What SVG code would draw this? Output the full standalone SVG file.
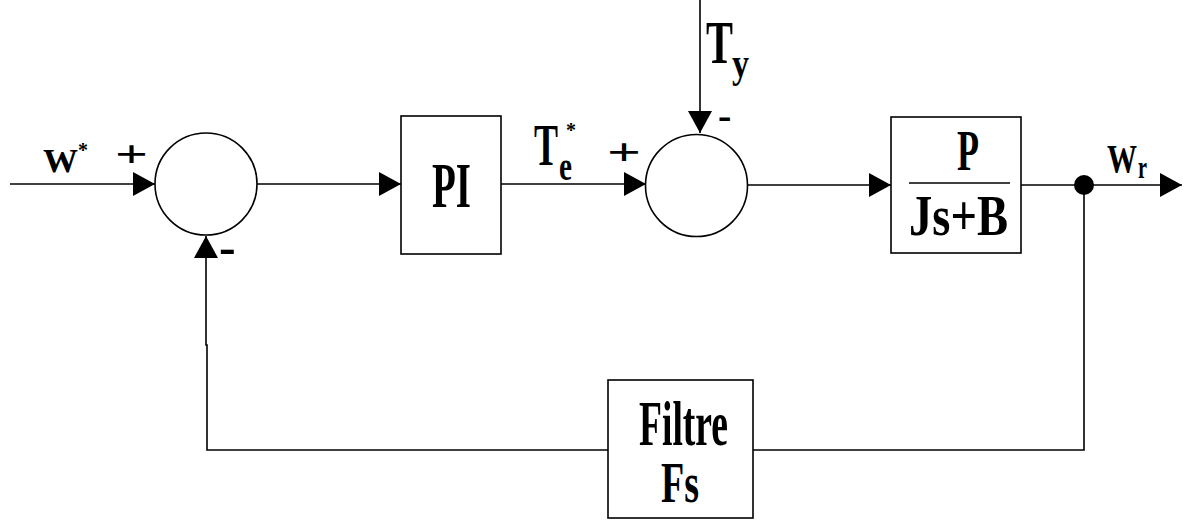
<svg xmlns="http://www.w3.org/2000/svg" width="1185" height="522" viewBox="0 0 1185 522">
<style>
.ln{fill:none;stroke:#000;stroke-width:1.6}
.bx{fill:#fff;stroke:#000;stroke-width:1.6}
.t{font-family:"Liberation Serif","Times New Roman",serif;font-weight:bold;fill:#000}
</style>
<defs>
<marker id="ah" markerUnits="userSpaceOnUse" viewBox="0 0 22 24" refX="22" refY="12" markerWidth="22" markerHeight="24" orient="auto">
<path d="M0,0 L22,12 L0,24 z" fill="#000"/>
</marker>
</defs>
<rect width="1185" height="522" fill="#fff"/>
<g id="connectors">
<path class="ln" d="M10,184 H155" marker-end="url(#ah)"/>
<path class="ln" d="M257,184 H401" marker-end="url(#ah)"/>
<path class="ln" d="M501,184 H646" marker-end="url(#ah)"/>
<path class="ln" d="M700,0 V133" marker-end="url(#ah)"/>
<path class="ln" d="M747,185 H891" marker-end="url(#ah)"/>
<path class="ln" d="M1021,185 H1182" marker-end="url(#ah)"/>
<path class="ln" d="M1084,185 V450 H753"/>
<path class="ln" d="M608,450 H207 V345 H206 V236" marker-end="url(#ah)"/>
<circle cx="1084" cy="185" r="10" fill="#000"/>
</g>
<g id="input-label">
<text class="t" x="43" y="172" font-size="33"><tspan textLength="35" lengthAdjust="spacingAndGlyphs">W</tspan><tspan x="78" y="157" font-size="20">*</tspan></text>
</g>
<g id="sum1">
<circle class="bx" cx="206" cy="184" r="51"/>
<text class="t" x="115" y="167" font-size="38" textLength="33" lengthAdjust="spacingAndGlyphs">+</text>
<text class="t" x="219" y="264" font-size="50">-</text>
</g>
<g id="pi">
<rect class="bx" x="401" y="116" width="100" height="138"/>
<text class="t" x="432" y="207" font-size="63" textLength="39" lengthAdjust="spacingAndGlyphs">PI</text>
</g>
<g id="te-label">
<text class="t" x="534" y="165" font-size="60"><tspan textLength="24" lengthAdjust="spacingAndGlyphs">T</tspan><tspan x="559" y="180" font-size="42" textLength="13" lengthAdjust="spacingAndGlyphs">e</tspan><tspan x="566" y="137" font-size="20">*</tspan></text>
</g>
<g id="sum2">
<circle class="bx" cx="696.5" cy="185.5" r="51"/>
<text class="t" x="607" y="165" font-size="38" textLength="34" lengthAdjust="spacingAndGlyphs">+</text>
<text class="t" x="718" y="129" font-size="40">-</text>
</g>
<g id="ty-label">
<text class="t" x="706" y="63" font-size="62"><tspan textLength="27" lengthAdjust="spacingAndGlyphs">T</tspan><tspan x="732" y="77" font-size="42" textLength="17" lengthAdjust="spacingAndGlyphs">y</tspan></text>
</g>
<g id="plant">
<rect class="bx" x="891" y="117" width="130" height="136"/>
<text class="t" x="957" y="170" font-size="57" textLength="22" lengthAdjust="spacingAndGlyphs">P</text>
<line class="ln" x1="909" y1="183" x2="1010" y2="183" stroke-width="2.5"/>
<text class="t" x="909" y="235" font-size="56" textLength="99" lengthAdjust="spacingAndGlyphs">Js+B</text>
</g>
<g id="output-label">
<text class="t" x="1107" y="172" font-size="41"><tspan textLength="30" lengthAdjust="spacingAndGlyphs">W</tspan><tspan x="1138" y="178" font-size="32" textLength="9" lengthAdjust="spacingAndGlyphs">r</tspan></text>
</g>
<g id="filter">
<rect class="bx" x="608" y="380" width="145" height="138"/>
<text class="t" x="639" y="445" font-size="63" textLength="89" lengthAdjust="spacingAndGlyphs">Filtre</text>
<text class="t" x="661" y="502" font-size="56" textLength="38" lengthAdjust="spacingAndGlyphs">Fs</text>
</g>
</svg>
